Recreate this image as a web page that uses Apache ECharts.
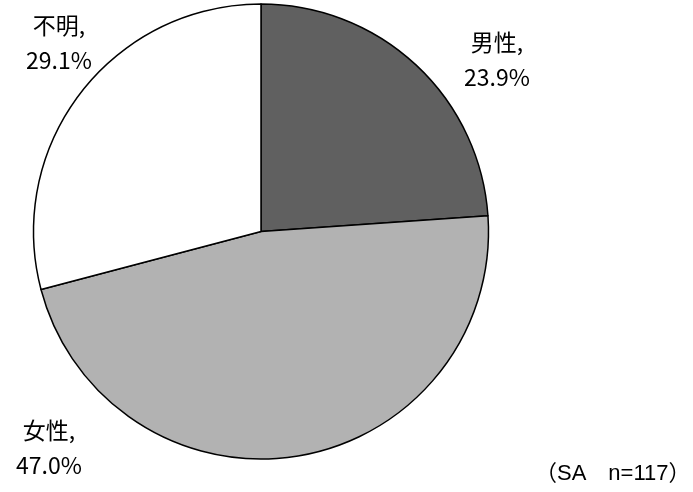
<!DOCTYPE html>
<html>
<head>
<meta charset="utf-8">
<script src="https://cdn.jsdelivr.net/npm/echarts@6/dist/echarts.min.js"></script>
<style>
  html, body { margin: 0; padding: 0; background: #fff; }
  #chart { width: 693px; height: 492px; }
</style>
</head>
<body>
<div id="chart"></div>
<script>
const categories = ['男性', '女性', '不明'];
const values = [23.9, 47.0, 29.1];
const sliceColors = ['#606060', '#b2b2b2', '#ffffff'];
// where Excel put each label (centre of text block)
const labelSpots = [[497, 60], [49, 448], [59, 43]];

const font = '"Noto Sans CJK JP", "Noto Sans", sans-serif';

const chart = echarts.init(document.getElementById('chart'));

chart.setOption({
  animation: false,
  series: [{
    type: 'pie',
    center: [261, 231.5],
    radius: [0, 227.5],
    startAngle: 90,
    clockwise: true,
    data: categories.map((name, i) => ({
      name: name,
      value: values[i],
      itemStyle: { color: sliceColors[i] }
    })),
    itemStyle: { borderColor: '#000', borderWidth: 1.5 },
    label: {
      show: true,
      position: 'outside',
      formatter: p => p.name + ',\n' + p.value.toFixed(1) + '%',
      color: '#000',
      fontSize: 23,
      lineHeight: 35,
      fontFamily: font,
      align: 'center',
      overflow: 'none'
    },
    labelLine: { show: false },
    labelLayout: p => ({
      x: labelSpots[p.dataIndex][0],
      y: labelSpots[p.dataIndex][1],
      align: 'center',
      verticalAlign: 'middle'
    }),
    emphasis: { disabled: true }
  }],
  graphic: [{
    type: 'text',
    left: 535,
    top: 463,
    style: {
      text: '（SA　n=117）',
      fill: '#000',
      fontSize: 22,
      fontFamily: '"Liberation Sans", "Noto Sans CJK JP", sans-serif'
    }
  }]
});
</script>
</body>
</html>
